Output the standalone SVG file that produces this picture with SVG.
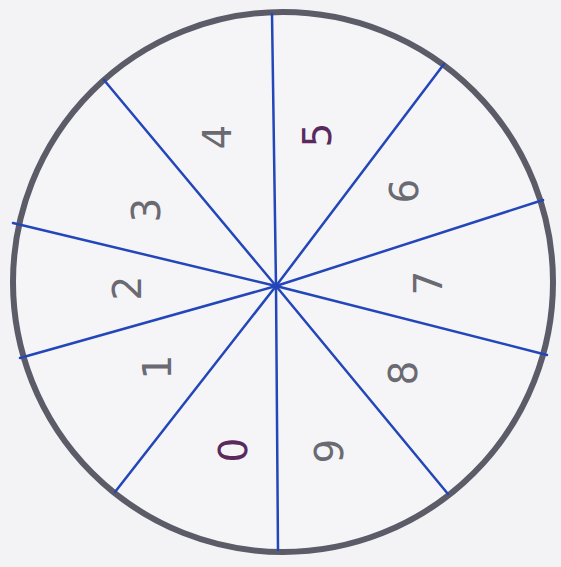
<svg xmlns="http://www.w3.org/2000/svg" width="561" height="567" viewBox="0 0 561 567">
<style>
.spoke{stroke:#2346b8;stroke-width:2.5;stroke-linecap:round;fill:none}
.lbl{font-family:"DejaVu Sans","Liberation Sans",sans-serif;font-size:39px;fill:#6a6a72;text-anchor:middle;dominant-baseline:central}
.dk{fill:#5a2a5e}
</style>
<rect width="561" height="567" fill="#f3f3f6"/>
<g id="circle"><circle cx="283" cy="282" r="270" fill="#f5f5f8" stroke="#5c5c68" stroke-width="6"/></g>
<g id="connectors">
<line class="spoke" x1="276" y1="286" x2="272" y2="14"/>
<line class="spoke" x1="276" y1="286" x2="444" y2="64"/>
<line class="spoke" x1="276" y1="286" x2="543" y2="200"/>
<line class="spoke" x1="276" y1="286" x2="547" y2="355"/>
<line class="spoke" x1="276" y1="286" x2="448" y2="494"/>
<line class="spoke" x1="276" y1="286" x2="278" y2="550"/>
<line class="spoke" x1="276" y1="286" x2="115" y2="492"/>
<line class="spoke" x1="276" y1="286" x2="20" y2="358"/>
<line class="spoke" x1="276" y1="286" x2="13" y2="223"/>
<line class="spoke" x1="276" y1="286" x2="104" y2="80"/>
</g>
<g id="l0"><text class="lbl dk" transform="translate(233,450) rotate(-90)">0</text></g>
<g id="l1"><text class="lbl" transform="translate(157,367) rotate(-90)">1</text></g>
<g id="l2"><text class="lbl" transform="translate(127,288) rotate(-90)">2</text></g>
<g id="l3"><text class="lbl" transform="translate(146,210) rotate(-90)">3</text></g>
<g id="l4"><text class="lbl" transform="translate(217,137) rotate(-90)">4</text></g>
<g id="l5"><text class="lbl dk" transform="translate(317,135) rotate(-90)">5</text></g>
<g id="l6"><text class="lbl" transform="translate(404,191) rotate(-90)">6</text></g>
<g id="l7"><text class="lbl" transform="translate(428,283) rotate(-90)">7</text></g>
<g id="l8"><text class="lbl" transform="translate(403,373) rotate(-90)">8</text></g>
<g id="l9"><text class="lbl" transform="translate(329,451) rotate(-90)">9</text></g>
</svg>
